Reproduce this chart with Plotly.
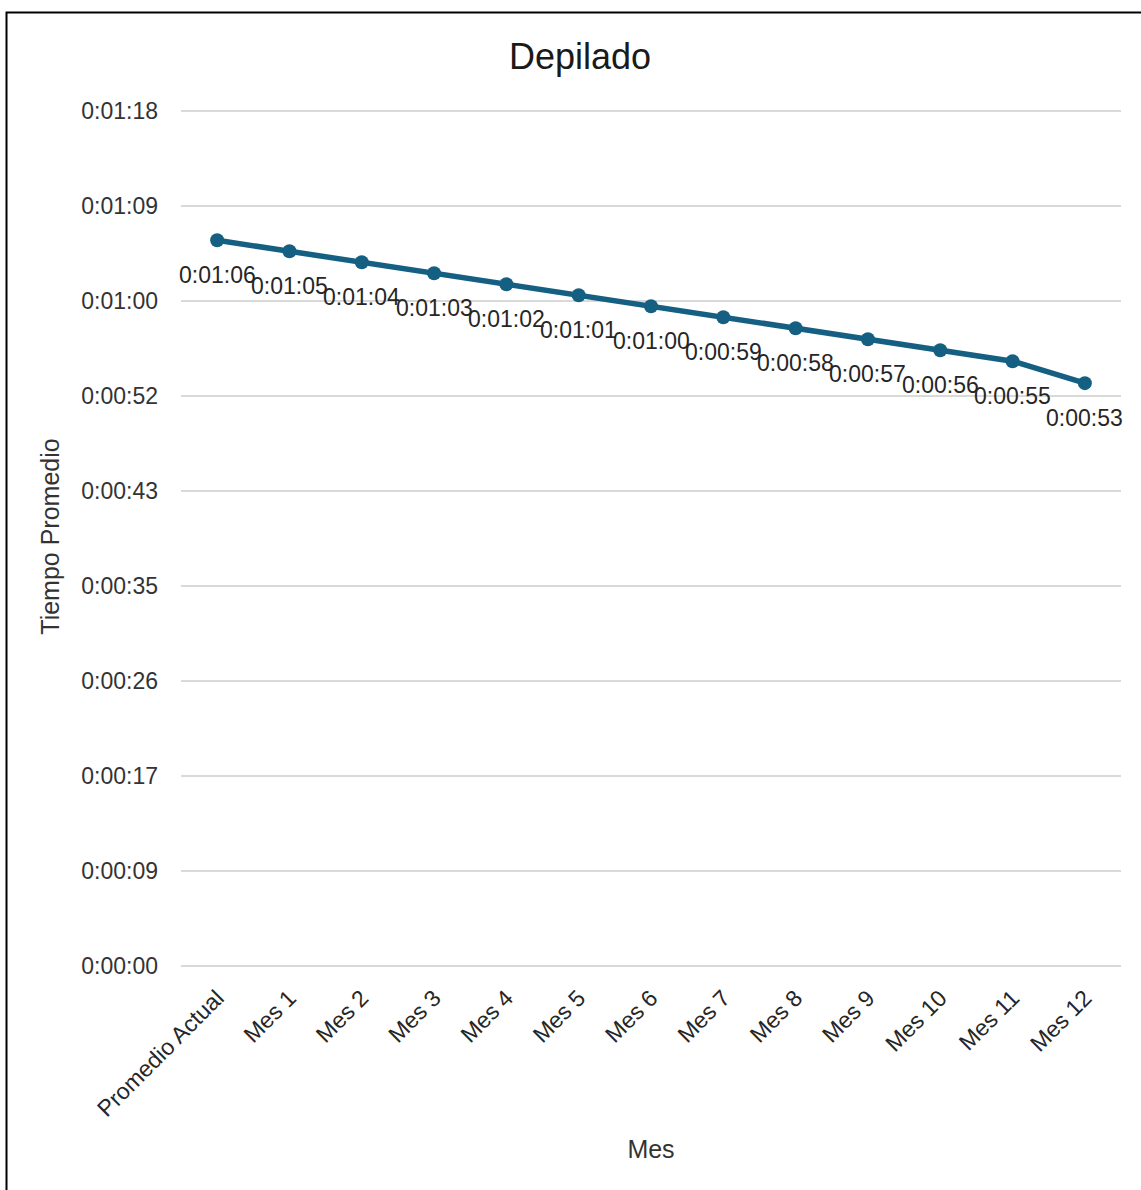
import plotly.graph_objects as go

# Average time per month, in seconds
meses = ["Promedio Actual", "Mes 1", "Mes 2", "Mes 3", "Mes 4", "Mes 5", "Mes 6",
         "Mes 7", "Mes 8", "Mes 9", "Mes 10", "Mes 11", "Mes 12"]
tiempo_seg = [66, 65, 64, 63, 62, 61, 60, 59, 58, 57, 56, 55, 53]

# Y axis grid steps of 0.0001 day (8.64 s), as in a spreadsheet time axis
paso_seg = 8.64
n_pasos = 9
tick_vals = [i * paso_seg for i in range(n_pasos + 1)]


def hms(seg):
    s = int(round(seg))
    return f"{s // 3600}:{(s % 3600) // 60:02d}:{s % 60:02d}"


tick_text = [hms(v) for v in tick_vals]

W, H = 1141, 1190
top = n_pasos * paso_seg
# pixel rows of the zero line and the top gridline
y_zero_px, y_top_px = 966, 111
scale = (y_zero_px - y_top_px) / top
pad_lo, pad_hi = 0.3, 0.64
y_range = [-pad_lo, top + pad_hi]
L, R = 181, 20
T = y_top_px - pad_hi * scale
B = H - (y_zero_px + pad_lo * scale)
pw, ph = W - L - R, H - T - B

color = "#156082"
font = "Liberation Sans, Arial, sans-serif"

fig = go.Figure()
fig.add_trace(go.Scatter(
    x=meses, y=tiempo_seg, mode="lines+markers",
    line=dict(color=color, width=5.5),
    marker=dict(color=color, size=14),
    hoverinfo="skip", showlegend=False,
))

# Data labels below each point
for m, v in zip(meses, tiempo_seg):
    fig.add_annotation(x=m, y=v, text=hms(v), showarrow=False,
                       xanchor="center", yanchor="middle", yshift=-35,
                       font=dict(size=23, color="#262626", family=font))


def px_x(p):
    return (p - L) / pw


def px_y(p):
    return (H - B - p) / ph


# Outer frame
fig.add_shape(type="rect", xref="paper", yref="paper",
              x0=px_x(6.5), x1=px_x(1160), y0=px_y(1210), y1=px_y(12.5),
              line=dict(color="#000000", width=2), fillcolor="rgba(0,0,0,0)",
              layer="above")

fig.update_layout(
    width=W, height=H,
    margin=dict(l=L, r=R, t=T, b=B, autoexpand=False),
    paper_bgcolor="white", plot_bgcolor="white",
    font=dict(family=font, color="#333333"),
    title=dict(text="Depilado", x=px_x(580), xref="paper", xanchor="center",
               y=1 - 56 / H, yref="container", yanchor="middle",
               font=dict(size=36, color="#1a1a1a", family=font)),
    xaxis=dict(
        type="category", range=[-0.5, len(meses) - 0.5],
        tickangle=-45, tickfont=dict(size=23, color="#262626"),
        showgrid=False, zeroline=False, showline=False, ticks="",
        ticklabelstandoff=10,
        title=dict(text="Mes", font=dict(size=25, color="#333333"), standoff=19),
        automargin=False,
    ),
    yaxis=dict(
        range=y_range,
        tickvals=tick_vals, ticktext=tick_text,
        tickfont=dict(size=23, color="#333333"),
        showgrid=True, gridcolor="#d9d9d9", gridwidth=2,
        zeroline=False, showline=False, ticks="",
        ticklabelstandoff=22,
        title=dict(text="Tiempo Promedio", font=dict(size=25, color="#333333"), standoff=14),
        automargin=False,
    ),
)

fig.write_html("out.html")
